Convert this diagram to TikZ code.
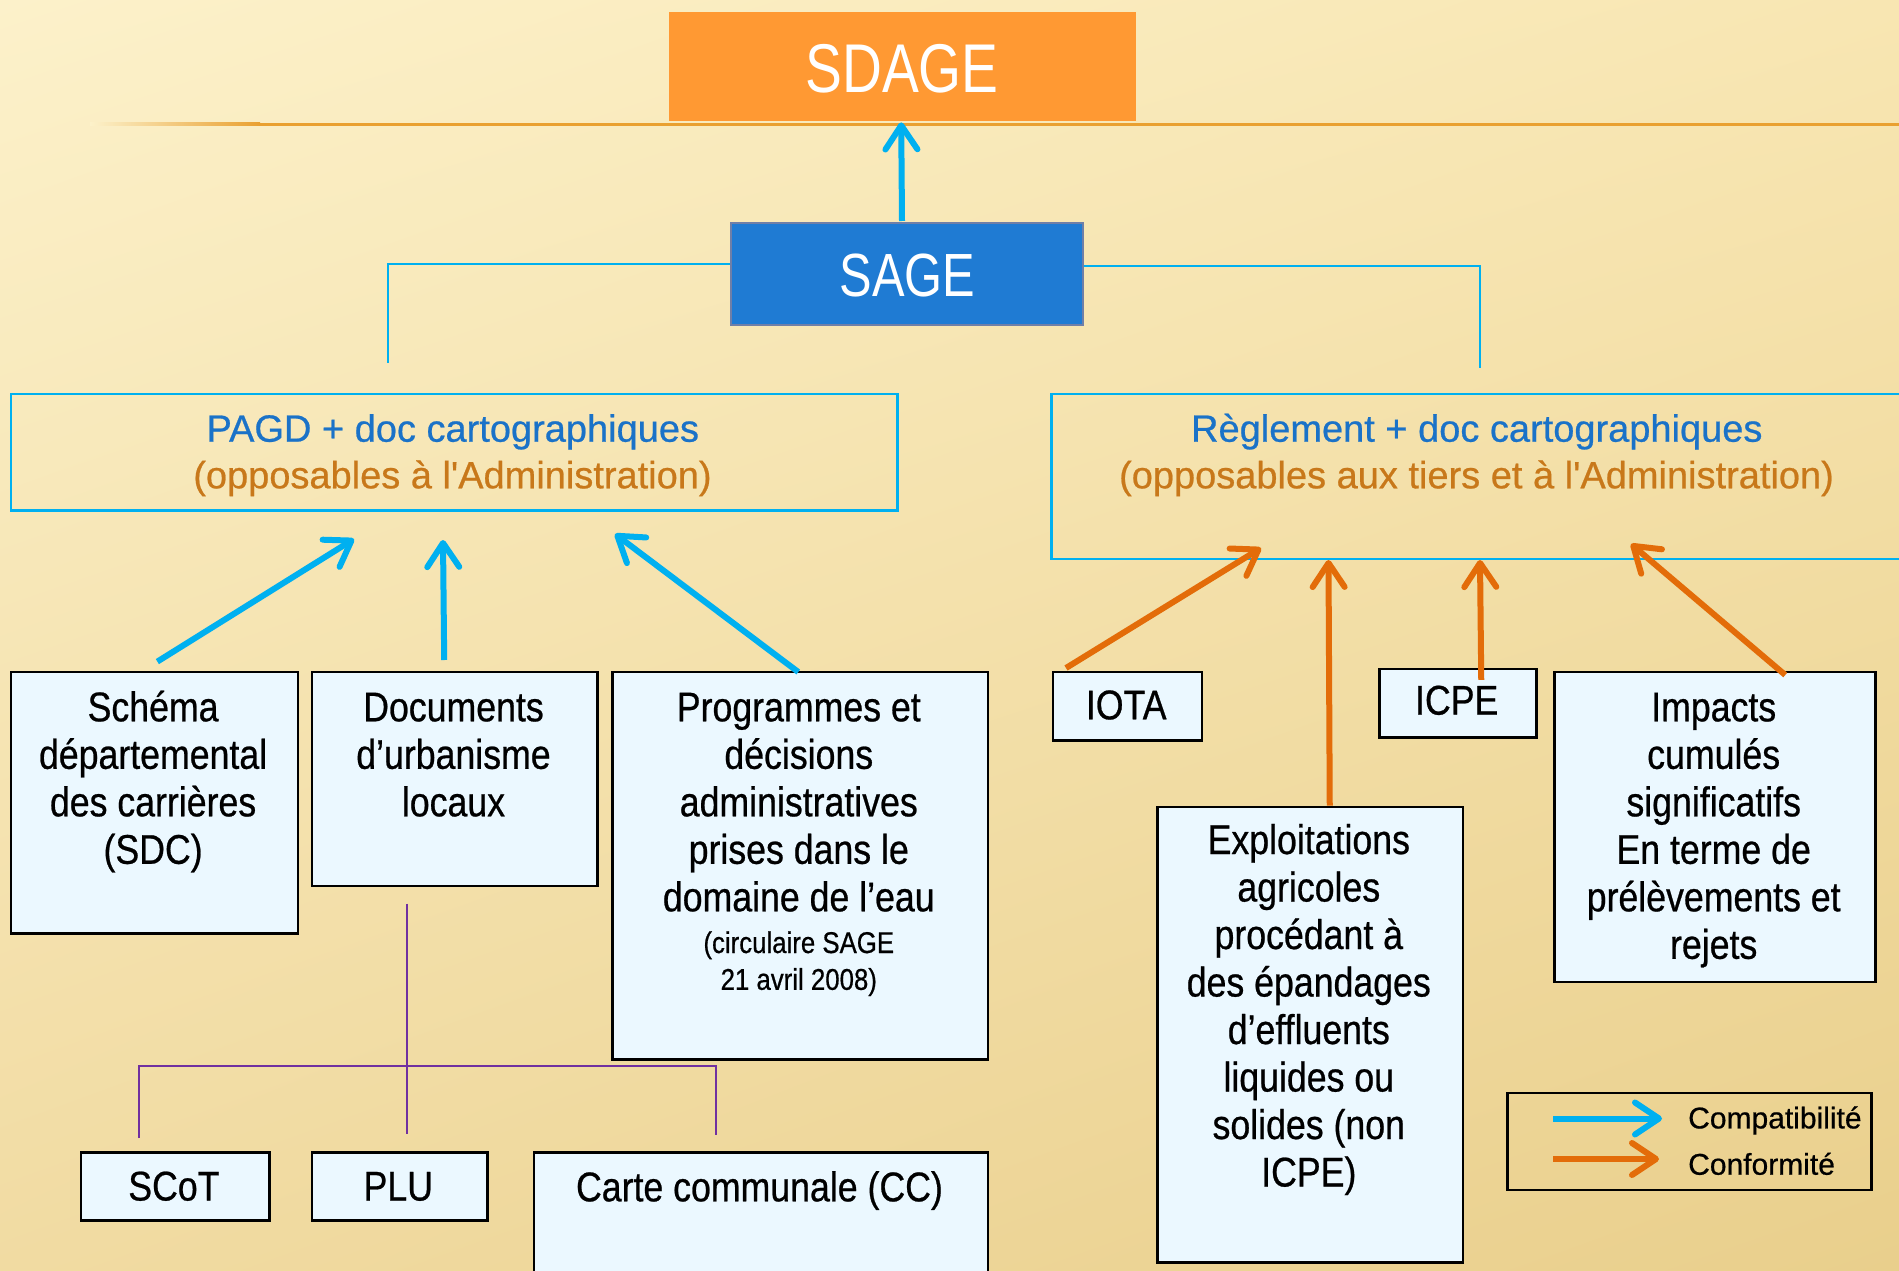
\documentclass[tikz,border=0pt]{standalone}
\usepackage{fontspec}
\setmainfont[FakeBold=0.6]{Liberation Sans}
\newfontfamily\condf[FakeStretch=0.86,FakeBold=0.6]{Liberation Sans}
\newfontfamily\narrowf[FakeStretch=0.8]{Liberation Sans}
\newfontfamily\plainf{Liberation Sans}
\usetikzlibrary{arrows.meta,calc,shadings}
\definecolor{bgTL}{HTML}{FCF1CA}
\definecolor{bgTR}{HTML}{F8E6B2}
\definecolor{bgBL}{HTML}{F1DBA2}
\definecolor{bgBR}{HTML}{E9CF8C}
\definecolor{sdageor}{HTML}{FF9933}
\definecolor{sageblue}{HTML}{1F7BD3}
\definecolor{sageedge}{HTML}{6F7FA8}
\definecolor{cyanarr}{HTML}{00B0F0}
\definecolor{orarr}{HTML}{E36C09}
\definecolor{boxfill}{HTML}{EBF8FF}
\definecolor{tblue}{HTML}{1A72C8}
\definecolor{torange}{HTML}{C8781A}
\definecolor{purp}{HTML}{7030A0}
\definecolor{hline}{HTML}{E9A030}
\newcommand\ml[2]{\parbox[t]{#1}{\centering #2}}
\begin{document}
\begin{tikzpicture}[x=1pt,y=-1pt,
  bx/.style={draw=black,line width=2.5pt,fill=boxfill,inner sep=0pt,anchor=north west,rectangle},
  tb/.style={font=\condf\fontsize{41.5}{47.5}\selectfont,inner sep=0pt,anchor=base,text=black},
  ts/.style={font=\condf\fontsize{30}{36.8}\selectfont,inner sep=0pt,anchor=base,text=black},
  hd/.style={font=\fontsize{38}{46}\selectfont,inner sep=0pt,anchor=base},
  lg/.style={font=\fontsize{30}{30}\selectfont,inner sep=0pt,anchor=base west,text=black},
  arrC/.style={draw=cyanarr,line width=6pt,-{Straight Barb[length=24pt,width=32pt,round]}},
  arrO/.style={draw=orarr,line width=6pt,-{Straight Barb[length=24pt,width=32pt,round]}},
  conn/.style={draw=cyanarr,line width=2pt},
  pl/.style={draw=purp,line width=2pt}]
\useasboundingbox (0,0) rectangle (1899,1271);
\shade[upper left=bgTL,upper right=bgTR,lower left=bgBL,lower right=bgBR] (0,0) rectangle (1899,1271);

% horizontal orange rule
\shade[left color=bgTL,right color=hline] (90,123) rectangle (260,126);
\fill[hline] (259,123) rectangle (1899,126);

% SDAGE / SAGE
\node[fill=sdageor,inner sep=0pt,anchor=north west,minimum width=467.5pt,minimum height=109pt] (sdage) at (668.5,12) {};
\node[font=\narrowf\fontsize{69}{69}\selectfont,text=white,anchor=base,inner sep=0pt] (sdaget) at (902,92.7) {SDAGE};
\node[fill=sageblue,draw=sageedge,line width=2pt,inner sep=0pt,anchor=north west,minimum width=351.5pt,minimum height=102pt] (sage) at (730,222) {};
\node[font=\narrowf\fontsize{61}{61}\selectfont,text=white,anchor=base,inner sep=0pt] (saget) at (907.5,296.7) {SAGE};

% PAGD and Reglement boxes
\node[draw=cyanarr,line width=2.5pt,inner sep=0pt,anchor=north west,minimum width=886.4pt,minimum height=116.3pt] (pagd) at (9.6,392.7) {};
\node[hd,text=tblue] (pagd1) at (452.8,441.7) {PAGD + doc cartographiques};
\node[hd,text=torange] (pagd2) at (452.5,488.3) {(opposables à l\textquotesingle Administration)};
\node[draw=cyanarr,line width=2.5pt,inner sep=0pt,anchor=north west,minimum width=870pt,minimum height=165pt] (regl) at (1050,392.7) {};
\node[hd,text=tblue] (regl1) at (1476.8,441.7) {Règlement + doc cartographiques};
\node[hd,text=torange] (regl2) at (1476.5,488.3) {(opposables aux tiers et à l\textquotesingle Administration)};

% SAGE connectors
\coordinate (cL) at (387.5,363);
\coordinate (cR) at (1480,368);
\draw[conn] ($(sage.west)+(0,-10)$) -| (cL);
\draw[conn] ($(sage.east)+(0,-8)$) -| (cR);

% left boxes
\node[bx,minimum width=287pt,minimum height=261.8pt] (sdc) at (9.6,670.6) {};
\node[tb] (sdct) at (153.1,721.3) {\ml{280pt}{Schéma\\départemental\\des carrières\\(SDC)}};
\node[bx,minimum width=285.7pt,minimum height=213.9pt] (doc) at (310.6,670.6) {};
\node[tb] (doct) at (453.5,721.3) {\ml{280pt}{Documents\\d’urbanisme\\locaux}};
\node[bx,minimum width=375.6pt,minimum height=387.4pt] (prog) at (611,670.6) {};
\node[tb] (progt) at (798.8,721.3) {\ml{370pt}{Programmes et\\décisions\\administratives\\prises dans le\\domaine de l’eau}};
\node[ts] (progs) at (798.8,953) {\ml{360pt}{(circulaire SAGE\\21 avril 2008)}};

% purple tree
\coordinate (pT) at (407,903.5);
\coordinate (pB) at (407,1134);
\coordinate (hL) at (139,1066);
\coordinate (hR) at (715.6,1066);
\coordinate (pL) at (139,1138);
\coordinate (pR) at (715.6,1135);
\draw[pl] (pT) -- (pB);
\draw[pl] (pL) -- (hL) -- (hR) -- (pR);

\node[bx,minimum width=188.3pt,minimum height=68pt] (scot) at (79.7,1151) {};
\node[tb] (scott) at (173.9,1200.5) {SCoT};
\node[bx,minimum width=175.4pt,minimum height=68pt] (plu) at (310.6,1151) {};
\node[tb] (plut) at (398.3,1200.5) {PLU};
\node[bx,minimum width=454.1pt,minimum height=140pt] (cc) at (532.5,1151) {};
\node[tb] (cct) at (759.5,1201.3) {Carte communale (CC)};

% right boxes
\node[bx,minimum width=149.1pt,minimum height=68.4pt] (iota) at (1051.6,670.6) {};
\node[tb] (iotat) at (1126.2,719.3) {IOTA};
\node[bx,minimum width=156.6pt,minimum height=68.2pt] (icpe) at (1378.4,667.8) {};
\node[tb] (icpet) at (1456.7,714.6) {ICPE};
\node[bx,minimum width=321.4pt,minimum height=310.1pt] (imp) at (1553,670.6) {};
\node[tb] (impt) at (1713.7,721.3) {\ml{315pt}{Impacts\\cumulés\\significatifs\\En terme de\\prélèvements et\\rejets}};
\node[bx,minimum width=305.6pt,minimum height=455.4pt] (expl) at (1156,805.6) {};
\node[tb] (explt) at (1308.8,854) {\ml{300pt}{Exploitations\\agricoles\\procédant à\\des épandages\\d’effluents\\liquides ou\\solides (non\\ICPE)}};

% arrows
\coordinate (t1) at (354,539);
\coordinate (t2) at (443,540);
\coordinate (t3) at (615,534);
\draw[arrC] ($(sdc.north)+(3,-9)$) -- (t1);
\draw[arrC] ($(doc.north)+(-10.5,-10.6)$) -- (t2);
\draw[arrC] ($(prog.north)+(-1.8,1.4)$) -- (t3);
\draw[arrC] ($(sage.north)+(-4.75,-1)$) -- ($(sdage.south)+(-1.25,1)$);

\coordinate (u1) at (1261,548);
\coordinate (u2) at (1328.5,560);
\coordinate (u3) at (1480,560);
\coordinate (u4) at (1631,544);
\draw[arrO] ($(iota.north west)+(14.4,-2.6)$) -- (u1);
\draw[arrO] ($(expl.north)+(19.7,0)$) -- (u2);
\draw[arrO] ($(icpe.north)+(23.3,12)$) -- (u3);
\draw[arrO] ($(imp.north)+(70.3,4.4)$) -- (u4);

% legend
\node[draw=black,line width=2.5pt,inner sep=0pt,anchor=north west,minimum width=364.4pt,minimum height=97pt] (leg) at (1506,1091.6) {};
\coordinate (l1a) at (1553,1118.5);
\coordinate (l1b) at (1662,1118.5);
\coordinate (l2a) at (1553,1159);
\coordinate (l2b) at (1659,1159);
\draw[arrC] (l1a) -- (l1b);
\draw[arrO] (l2a) -- (l2b);
\node[lg] (lgc) at (1688,1128.4) {Compatibilité};
\node[lg] (lgf) at (1688,1174.7) {Conformité};
\end{tikzpicture}
\end{document}
